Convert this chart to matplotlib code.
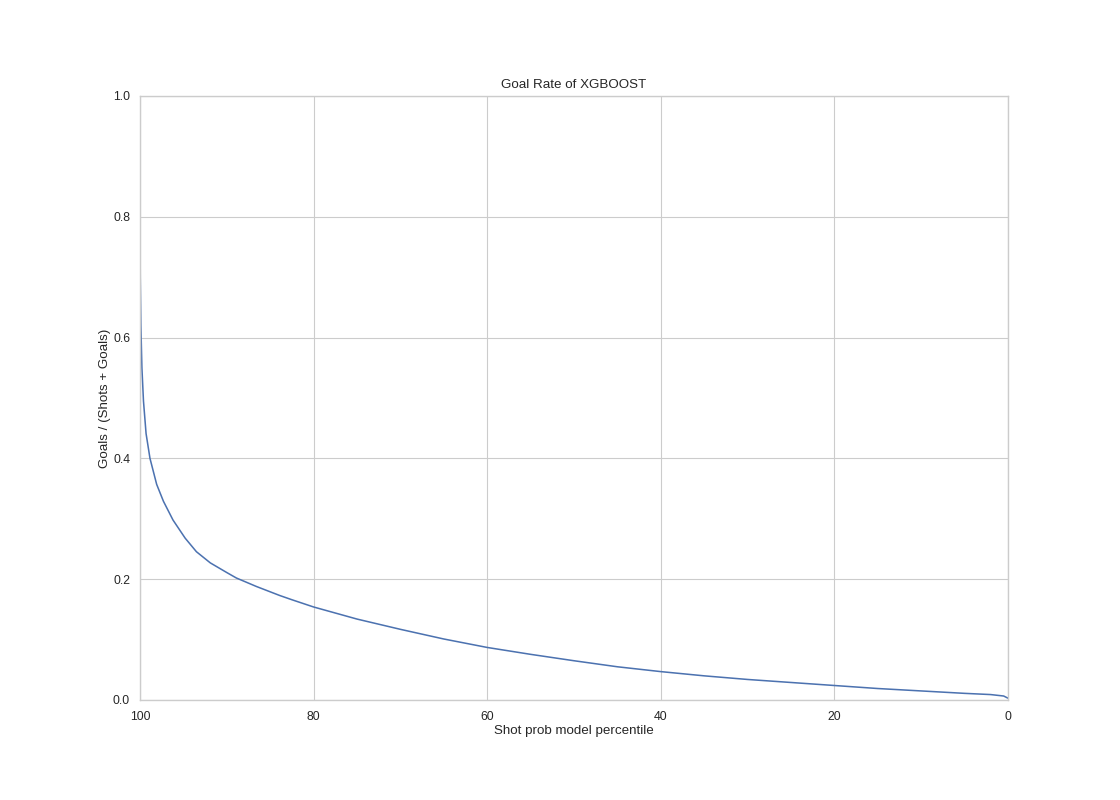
import matplotlib
matplotlib.use('Agg')
import matplotlib.pyplot as plt
import seaborn as sns

# percentile of model probability (descending) vs cumulative goal rate
percentile = [100, 99.97, 99.9, 99.78, 99.6, 99.3, 98.85, 98.08, 97.3, 96.2,
              94.8, 93.5, 91.9, 90.0, 88.9, 86.6, 83.9, 82.5, 80, 75, 70, 65,
              60, 55, 50, 45, 40, 35, 30, 25, 20, 15, 10, 5, 2, 0.5, 0]
goal_rate = [0.79, 0.70, 0.62, 0.55, 0.495, 0.441, 0.40, 0.357, 0.329, 0.298,
             0.268, 0.2455, 0.227, 0.211, 0.202, 0.188, 0.173, 0.166, 0.154,
             0.134, 0.117, 0.101, 0.087, 0.0756, 0.065, 0.055, 0.047, 0.040,
             0.034, 0.029, 0.024, 0.019, 0.015, 0.011, 0.009, 0.0066, 0.003]

sns.set_style('whitegrid', {'axes.edgecolor': '.8', 'grid.color': '.8'})
plt.rcParams['font.family'] = ['Liberation Sans', 'DejaVu Sans']

fig = plt.figure(figsize=(14, 10), dpi=80)
fig.subplots_adjust(left=0.125, right=0.9, bottom=0.125, top=0.88)
ax = fig.add_subplot(111)
ax.plot(percentile, goal_rate, color='#4C72B0', linewidth=1.4)
ax.set_xlim(100, 0)
ax.set_ylim(0, 1)
ax.set_xticks([100, 80, 60, 40, 20, 0])
ax.set_yticks([0.0, 0.2, 0.4, 0.6, 0.8, 1.0])
ax.tick_params(labelsize=11, length=0, colors='#262626')
ax.tick_params(axis='x', pad=10)
ax.tick_params(axis='y', pad=9)
ax.set_title('Goal Rate of XGBOOST', fontsize=12, color='#262626', pad=7)
ax.set_xlabel('Shot prob model percentile', fontsize=12, color='#262626', labelpad=2)
ax.set_ylabel('Goals / (Shots + Goals)', fontsize=12, color='#262626', labelpad=2)
for s in ax.spines.values():
    s.set_linewidth(1.25)
ax.grid(linewidth=1)

fig.savefig('out.png', dpi=80)
